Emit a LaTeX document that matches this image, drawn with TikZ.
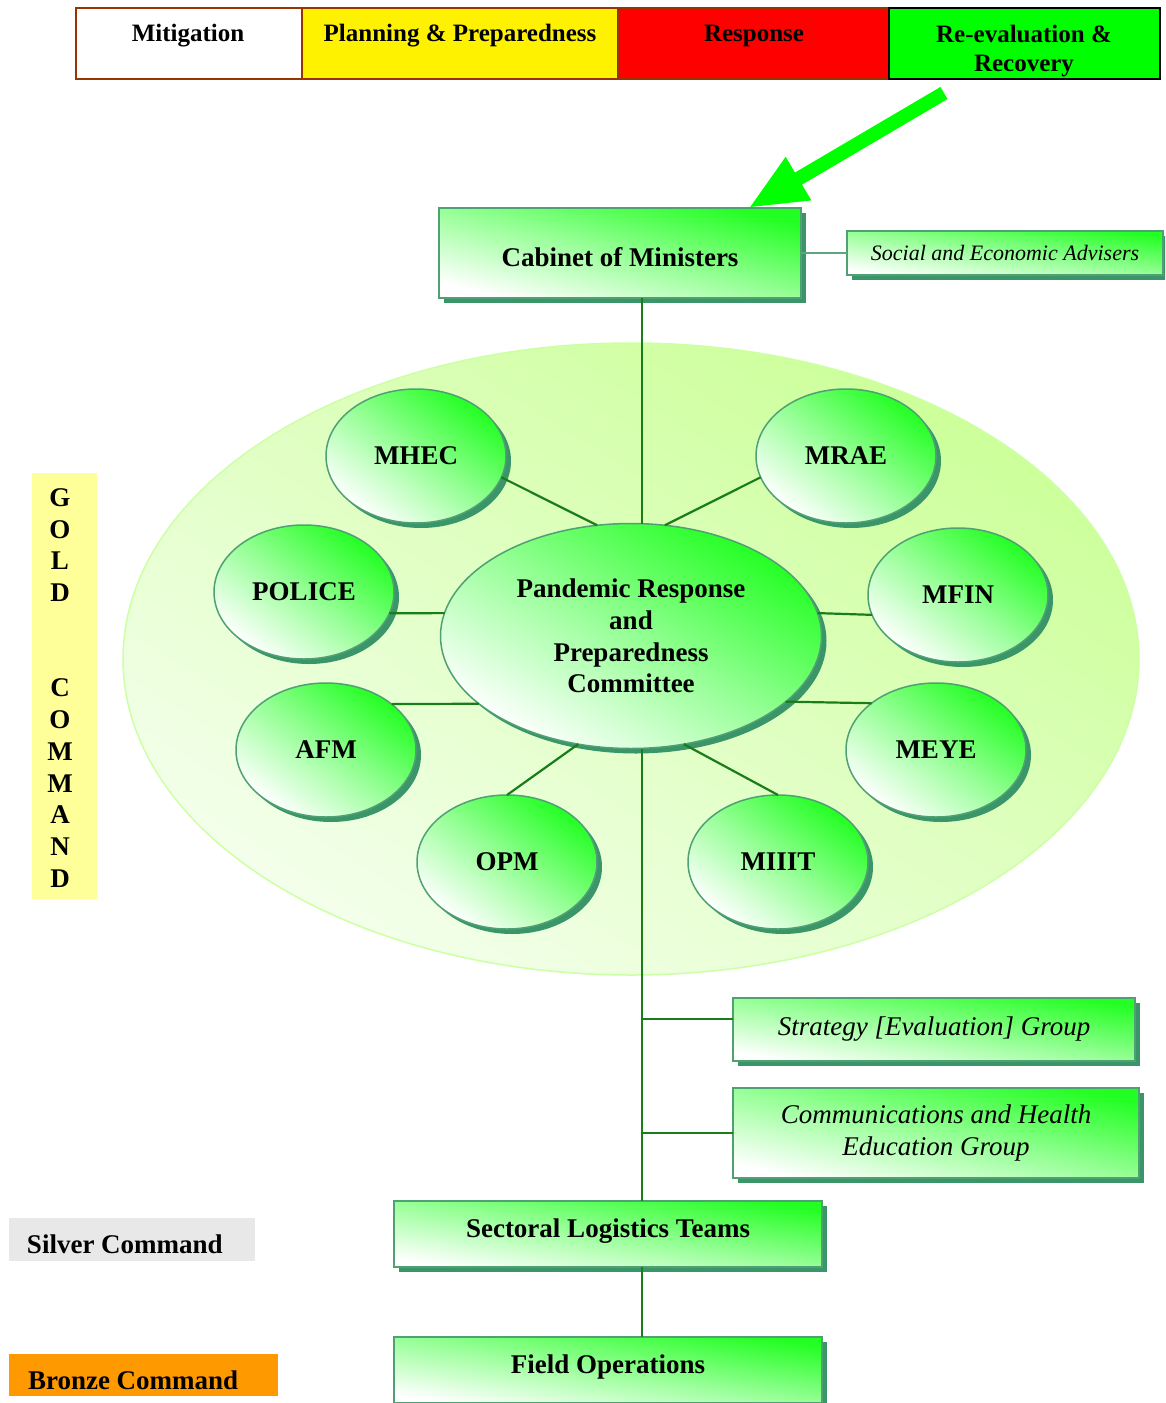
\documentclass[tikz,border=0pt]{standalone}
\usepackage{fontspec}
\setmainfont{Liberation Serif}
\usetikzlibrary{arrows.meta,shapes.geometric,shadows,calc}

\definecolor{boxrim}{RGB}{80,160,115}
\definecolor{boxshadow}{RGB}{58,150,104}
\definecolor{boxgreen}{RGB}{34,255,34}
\definecolor{boxmid}{RGB}{150,255,150}
\definecolor{linkgreen}{RGB}{25,125,25}
\definecolor{sidelink}{RGB}{95,165,125}
\definecolor{arrowgreen}{RGB}{0,255,0}
\definecolor{barbrown}{RGB}{153,51,0}
\definecolor{goldbg}{RGB}{255,255,153}
\definecolor{silverbg}{RGB}{232,232,232}
\definecolor{bronzebg}{RGB}{255,153,0}
\definecolor{sectorpale}{RGB}{244,255,236}
\definecolor{sectorlime}{RGB}{204,255,153}
\definecolor{sectorrim}{RGB}{205,255,165}

\begin{document}
\begin{tikzpicture}[x=1pt, y=-1pt,
  every node/.style={inner sep=0pt, outer sep=0pt},
  % diagonal gradient: white at the lower left corner, bright green at the upper right
  greenshade/.style={bottom color=white, top color=boxgreen, middle color=boxmid, shading angle=#1},
  castshadow/.style={drop shadow={shadow xshift=5pt, shadow yshift=-5pt, fill=boxshadow, opacity=1}},
  greenbox/.style={rectangle, draw=boxrim, line width=1.5pt, greenshade=#1, castshadow},
  greenoval/.style={ellipse, draw=boxrim, line width=1.5pt, greenshade=#1, castshadow},
  boldlabel/.style={font=\fontsize{27}{31.7}\selectfont\bfseries},
  itlabel/.style={font=\fontsize{27}{32}\selectfont\itshape},
  member/.style={greenoval=-36.7, minimum width=180pt, minimum height=134pt, boldlabel},
  link/.style={draw=linkgreen, line width=2.2pt},
  barcell/.style={rectangle, minimum height=71pt, line width=2pt},
  bartext/.style={font=\fontsize{25}{29}\selectfont\bfseries, align=center},
  tierlabel/.style={font=\fontsize{27}{31.75}\selectfont\bfseries}
]
\clip (0,0) rectangle (1165,1403);
\fill[white] (0,0) rectangle (1165,1403);

% phase bar
\node[barcell, draw=barbrown, fill=white, minimum width=226pt] (mitcell) at (189,43.5) {};
\node[barcell, draw=barbrown, fill=yellow, minimum width=316pt] (plancell) at (460,43.5) {};
\node[barcell, draw=barbrown, fill=red, minimum width=271pt] (respcell) at (753.5,43.5) {};
\node[barcell, draw=black, fill=arrowgreen, minimum width=271pt] (recovcell) at (1024.5,43.5) {};
\node[bartext] (mittext) at (188,36) {Mitigation};
\node[bartext] (plantext) at (460,36) {Planning \& Preparedness};
\node[bartext] (resptext) at (754,36) {Response};
\node[bartext] (recovtext) at (1024,51) {Re-evaluation \&\\Recovery};

% command tiers on the left
\node[rectangle, fill=goldbg, minimum width=65pt, minimum height=426pt] (goldbox) at (64.5,686) {};
\node[tierlabel, align=center] (goldtext) at (60,688) {G\\O\\L\\D\\[63.5pt]C\\O\\M\\M\\A\\N\\D};
\node[rectangle, fill=silverbg, minimum width=246pt, minimum height=43pt] (silverbox) at (132,1239.5) {};
\node[tierlabel, anchor=west] (silvertext) at (27,1244) {Silver Command};
\node[rectangle, fill=bronzebg, minimum width=269pt, minimum height=42pt] (bronzebox) at (143.5,1375) {};
\node[tierlabel, anchor=west] (bronzetext) at (28,1380) {Bronze Command};

% gold command sector
\node[ellipse, minimum width=1016pt, minimum height=632pt, draw=sectorrim, line width=1.5pt,
      bottom color=sectorpale, top color=sectorlime, shading angle=-32] (sector) at (631,659) {};

% boxes
\node[greenbox=-14, minimum width=362pt, minimum height=90pt, boldlabel, text height=30pt, text depth=3pt] (cabinet) at (620,253) {Cabinet of Ministers};
\node[greenbox=-8, minimum width=316pt, minimum height=44pt, font=\fontsize{22}{26}\selectfont\itshape] (advisers) at (1005,253) {Social and Economic Advisers};
\node[greenoval=-30.6, minimum width=381pt, minimum height=225pt, boldlabel, align=center] (prp) at (631,636) {Pandemic Response\\and\\Preparedness\\Committee};
\node[member] (mhec) at (416,456) {MHEC};
\node[member] (mrae) at (846,456) {MRAE};
\node[member] (police) at (304,592) {POLICE};
\node[member] (mfin) at (958,595) {MFIN};
\node[member] (afm) at (326,750) {AFM};
\node[member] (meye) at (936,750) {MEYE};
\node[member] (opm) at (507,862) {OPM};
\node[member] (miiit) at (778,862) {MIIIT};
\node[greenbox=-9, minimum width=402pt, minimum height=63pt, itlabel, text height=22pt, text depth=10pt] (strategy) at (934,1029.5) {Strategy [Evaluation] Group};
\node[greenbox=-12.5, minimum width=406pt, minimum height=90pt, itlabel, align=center] (comms) at (936,1133) {Communications and Health\\Education Group};
\node[greenbox=-8.8, minimum width=428pt, minimum height=66pt, boldlabel, text height=18pt, text depth=12pt] (sectoral) at (608,1234) {Sectoral Logistics Teams};
\node[greenbox=-8.8, minimum width=428pt, minimum height=66pt, boldlabel, text height=18pt, text depth=12pt] (fieldops) at (608,1370) {Field Operations};

% connectors
\coordinate (spinex) at (642,0);
\draw[draw=sidelink, line width=1.5pt] (cabinet.east) -- (advisers.west);
\draw[link] (cabinet.south -| spinex) -- (prp.north -| spinex);
\draw[link] (mhec.-14) -- (prp.107);
\draw[link] (mrae.194) -- (prp.73);
\draw[link] (police.-14.5) -- (prp.173);
\draw[link] (mfin.193) -- (prp.7);
\draw[link] (afm.35) -- (prp.-156.4);
\draw[link] (meye.144.9) -- (prp.-23.6);
\draw[link] (opm.north) -- (prp.-116);
\draw[link] (miiit.north) -- (prp.-64);
\draw[link] (prp.south -| spinex) -- (sectoral.north -| spinex);
\draw[link] (strategy.177.3 -| spinex) -- (strategy.177.3);
\draw[link] (comms.west -| spinex) -- (comms.west);
\draw[link] (sectoral.south -| spinex) -- (fieldops.north -| spinex);

% phase pointer
\coordinate (arrowtail) at (944,93);
\draw[arrowgreen, line width=14pt, -{Triangle[length=58pt,width=46pt]}]
  (arrowtail) -- ($(cabinet.north west)!0.855!(cabinet.north east)$);
\end{tikzpicture}
\end{document}
